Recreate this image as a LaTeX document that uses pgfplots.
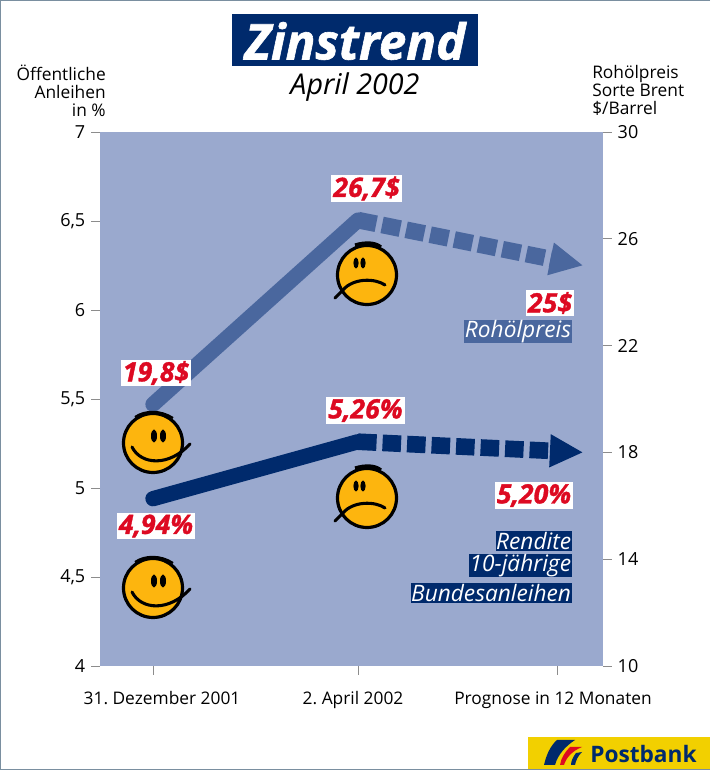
\documentclass[border=0pt]{standalone}
\usepackage{pgfplots}
\pgfplotsset{compat=1.18}
\usepackage{fontspec}
\setmainfont{Open Sans}
\newfontfamily\heavy[BoldItalicFeatures={FakeBold=1.2}]{Open Sans}
\frenchspacing
\usetikzlibrary{arrows.meta,calc}
\definecolor{plotbg}{HTML}{9AA9CE}
\definecolor{oil}{HTML}{4A679E}
\definecolor{navy}{HTML}{002A6C}
\definecolor{redt}{HTML}{DD0A22}
\definecolor{face}{HTML}{FDB50E}
\definecolor{ticky}{HTML}{8C8C8C}
\definecolor{frame}{HTML}{7A8FA0}
\definecolor{pbyellow}{HTML}{F2D000}
% px = reference pixel, 0.75pt each
\newcommand{\happyface}[2]{% happy face at px centre
 \begin{scope}[shift={(#1,#2)}]
  \fill[face] (0,0) circle (29);
  \draw[black,line width=2.4pt] (0,0) circle (29.5);
  \draw[black,line width=1.6pt] (-18,26) .. controls (-8,33) and (8,33) .. (20,25);
  \draw[black,line width=2.3pt,line cap=round] (-21,-4) .. controls (-12,-22) and (16,-24) .. (37,-1);
  \fill[black] (1,7) ellipse (3 and 6.5);
  \fill[black] (10,7) ellipse (3 and 6.5);
 \end{scope}}
\newcommand{\sadface}[2]{% sad face at px centre
 \begin{scope}[shift={(#1,#2)}]
  \fill[face] (0,0) circle (29);
  \draw[black,line width=2.4pt] (0,0) circle (29.5);
  \draw[black,line width=2.4pt] (-12,30) .. controls (-2,33) and (8,33) .. (14,28);
  \draw[black,line width=2.3pt,line cap=round] (-32,-23) -- (-24,-15) .. controls (-14,-3) and (8,-3) .. (18,-10);
  \fill[black] (-11,12) ellipse (2.6 and 5.5);
  \fill[black] (-4,12) ellipse (2.6 and 5.5);
 \end{scope}}
\newcommand{\lab}[3]{\node[fill=white,inner xsep=1.5pt,inner ysep=0pt,minimum height=20pt,text=redt,font=\fontsize{20}{20}\selectfont\heavy\bfseries\itshape,anchor=center] at (#1,#2) {#3};}
\begin{document}
\begin{tikzpicture}
\path[use as bounding box] (0,0) rectangle (532.5pt,577.5pt);
\fill[white] (0,0) rectangle (532.5pt,577.5pt);
\draw[frame,line width=1.5pt] (532.5pt,577.5pt) -- (0,577.5pt) -- (0,0) -- (532.5pt,0);
% left axis with yield
\begin{axis}[at={(75pt,78pt)},anchor=south west,scale only axis,width=377.25pt,height=400.5pt,
 xmin=-0.2624,xmax=2.2277,ymin=4,ymax=7,
 axis y line*=left,axis x line*=bottom,
 axis background/.style={fill=plotbg},
 axis line style={draw=none},
 xtick={0,1.015,2},
 xticklabels={\hspace*{13.5pt}31. Dezember 2001,2. April 2002\hspace*{7.5pt},Prognose in 12 Monaten\hspace*{6pt}},
 ytick={4,4.5,5,5.5,6,6.5,7},
 yticklabels={4,{4,5},5,{5,5},6,{6,5},7},
 tick style={draw=ticky,line width=0.6pt},
 tick align=outside,major tick length=6.5pt,
 xticklabel style={font=\fontsize{13}{14}\selectfont,yshift=-9pt},
 yticklabel style={font=\fontsize{13.5}{14}\selectfont,xshift=-1pt},
 clip=false]
\addplot[navy,line width=11.5pt,line cap=round,line join=round] coordinates {(0,4.94) (1.015,5.26)};
\addplot[navy,line width=12.5pt,dash pattern=on 13.9pt off 4.5pt,
  -{Triangle[length=25pt,width=23pt]}] coordinates {(1.015,5.26) (2.13,5.20)};
\end{axis}
% right axis with oil price
\begin{axis}[at={(75pt,78pt)},anchor=south west,scale only axis,width=377.25pt,height=400.5pt,
 xmin=-0.2624,xmax=2.2277,ymin=10,ymax=30,
 axis y line*=right,axis x line=none,
 axis line style={draw=none},
 ytick={10,14,18,22,26,30},
 /pgf/number format/assume math mode=true,
 tick style={draw=ticky,line width=0.6pt},
 tick align=outside,major tick length=6.5pt,
 yticklabel style={font=\fontsize{13.5}{14}\selectfont,xshift=1pt},
 clip=false]
\addplot[oil,line width=11.5pt,line cap=round,line join=round] coordinates {(0,19.8) (1.015,26.7)};
\addplot[oil,line width=12.5pt,dash pattern=on 13.9pt off 4.5pt,
  -{Triangle[length=25pt,width=23pt]}] coordinates {(1.015,26.7) (2.13,25)};
\end{axis}
\begin{scope}[x=0.75pt,y=0.75pt]
% faces
\happyface{153}{327}
\happyface{153}{182}
\sadface{367}{495}
\sadface{367}{272}
% value labels
\lab{156}{397}{19,8\$}
\lab{366.5}{581.5}{26,7\$}
\lab{156}{244}{4,94\%}
\lab{365.5}{359.5}{5,26\%}
\lab{550}{467}{25\$}
\lab{534}{274.5}{5,20\%}
% series names
\tikzset{sn/.style={anchor=south east,inner xsep=0.5pt,inner ysep=0pt,minimum height=15pt,text=white,font=\fontsize{17}{18}\selectfont\itshape}}
\node[sn,fill=oil] at (572,427) {Rohölpreis};
\node[sn,fill=navy] at (572,219) {Rendite};
\node[sn,fill=navy] at (572,193) {10-jährige};
\node[sn,fill=navy] at (572,167) {Bundesanleihen};
% title
\fill[navy] (232,704) rectangle (478,756);
\node[text=white,font=\fontsize{37}{38}\selectfont\heavy\bfseries\itshape] at (355,729) {Zinstrend};
\node[font=\fontsize{21.5}{23}\selectfont\itshape] at (355,683) {April 2002};
% axis titles
\node[anchor=north east,align=right,font=\fontsize{13}{13.5}\selectfont,inner sep=0pt] at (106,705) {Öffentliche\\Anleihen\\in \%};
\node[anchor=north west,align=left,font=\fontsize{13}{13.5}\selectfont,inner sep=0pt] at (592,705) {Rohölpreis\\Sorte Brent\\\$/Barrel};
% logo
\fill[pbyellow] (528,1) rectangle (710,33);
\fill[navy] (544,5) -- (555,5) .. controls (558,16) and (566,24) .. (575,30) -- (557,30) .. controls (550,24) and (546,14) .. (544,5) -- cycle;
\fill[redt] (560,5) -- (564,5) .. controls (566,12) and (572,19) .. (582,23) -- (570,23) .. controls (565,18) and (561,12) .. (560,5) -- cycle;
\fill[navy] (571,5) -- (575,5) .. controls (576,10) and (578,14) .. (582,18) -- (576,17) .. controls (573,13) and (571,9) .. (571,5) -- cycle;
\node[anchor=west,inner sep=0pt,text=navy,font=\fontsize{17}{18}\selectfont\bfseries] at (590,16) {Postbank};
\end{scope}
\end{tikzpicture}
\end{document}
